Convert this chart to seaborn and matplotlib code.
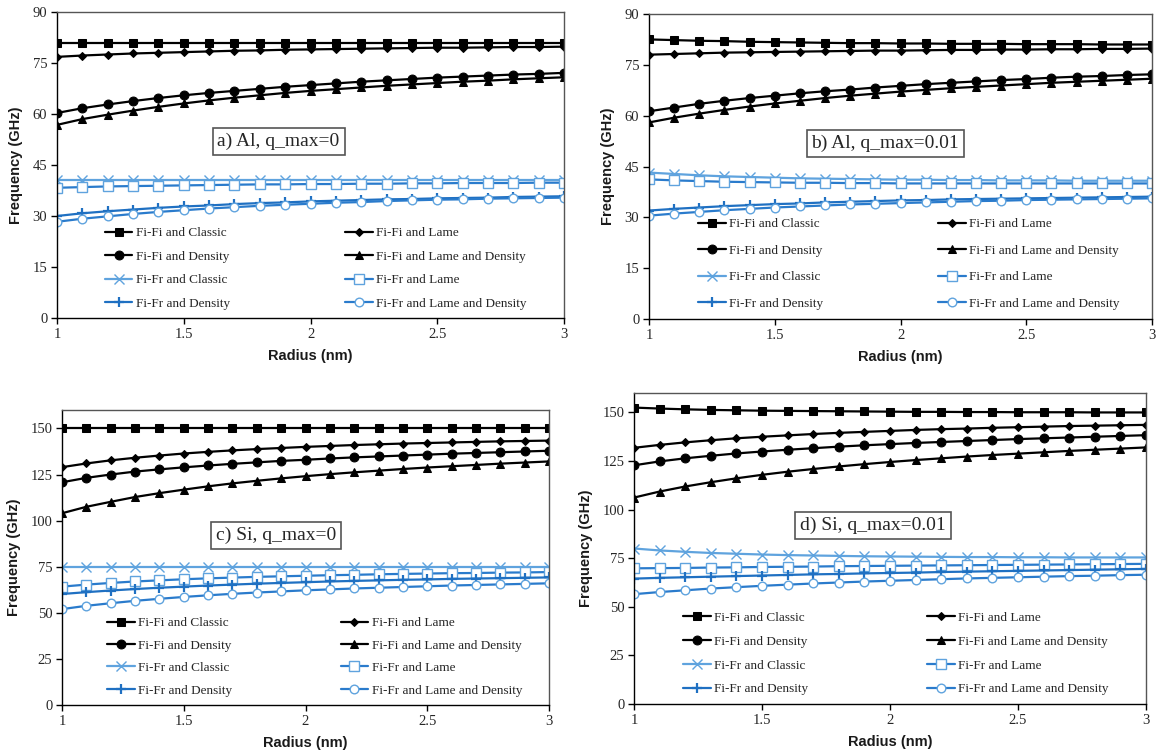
import numpy as np
import pandas as pd
import matplotlib
matplotlib.use("Agg")
import matplotlib.pyplot as plt
import seaborn as sns

# ---------------- data ----------------
radius = [1.0, 1.1, 1.2, 1.3, 1.4, 1.5, 1.6, 1.7, 1.8, 1.9, 2.0,
          2.1, 2.2, 2.3, 2.4, 2.5, 2.6, 2.7, 2.8, 2.9, 3.0]

series_names = ["Fi-Fi and Classic", "Fi-Fi and Lame", "Fi-Fi and Density",
                "Fi-Fi and Lame and Density", "Fi-Fr and Classic", "Fi-Fr and Lame",
                "Fi-Fr and Density", "Fi-Fr and Lame and Density"]

panel_titles = ["a) Al, q_max=0", "b) Al, q_max=0.01", "c) Si, q_max=0", "d) Si, q_max=0.01"]

# Panel a) Al, q_max=0
a_fifi_classic = [81.0] * 21
a_fifi_lame = [76.8, 77.2, 77.5, 77.8, 78.0, 78.2, 78.4, 78.6, 78.7, 78.9, 79.0,
               79.1, 79.2, 79.3, 79.4, 79.5, 79.5, 79.6, 79.7, 79.7, 79.8]
a_fifi_density = [60.3, 61.7, 62.8, 63.8, 64.7, 65.5, 66.2, 66.8, 67.4, 68.0, 68.5,
                  69.0, 69.5, 69.9, 70.3, 70.7, 71.0, 71.3, 71.6, 71.8, 72.1]
a_fifi_lame_density = [56.8, 58.5, 59.8, 61.0, 62.1, 63.1, 64.0, 64.8, 65.5, 66.2, 66.8,
                       67.3, 67.8, 68.3, 68.7, 69.1, 69.5, 69.8, 70.2, 70.5, 70.8]
a_fifr_classic = [40.5] * 21
a_fifr_lame = [38.3, 38.5, 38.7, 38.8, 38.9, 39.0, 39.1, 39.2, 39.3, 39.3, 39.4,
               39.4, 39.5, 39.5, 39.6, 39.6, 39.7, 39.7, 39.7, 39.8, 39.8]
a_fifr_density = [30.0, 30.8, 31.4, 31.9, 32.4, 32.8, 33.1, 33.5, 33.8, 34.0, 34.3,
                  34.5, 34.7, 34.9, 35.0, 35.2, 35.3, 35.4, 35.6, 35.7, 35.8]
a_fifr_lame_density = [28.3, 29.2, 29.9, 30.6, 31.2, 31.7, 32.2, 32.6, 33.0, 33.3, 33.6,
                       33.9, 34.1, 34.4, 34.6, 34.8, 34.9, 35.1, 35.2, 35.3, 35.4]

# Panel b) Al, q_max=0.01
b_fifi_classic = [82.5, 82.3, 82.1, 82.0, 81.8, 81.7, 81.6, 81.5, 81.4, 81.4, 81.3,
                  81.3, 81.2, 81.2, 81.2, 81.1, 81.1, 81.1, 81.0, 81.0, 81.0]
b_fifi_lame = [78.0, 78.2, 78.4, 78.6, 78.7, 78.8, 78.9, 79.0, 79.1, 79.2, 79.2,
               79.3, 79.4, 79.4, 79.5, 79.5, 79.6, 79.6, 79.7, 79.7, 79.8]
b_fifi_density = [61.3, 62.4, 63.5, 64.4, 65.2, 65.9, 66.6, 67.2, 67.7, 68.3, 68.8,
                  69.3, 69.7, 70.1, 70.5, 70.8, 71.2, 71.5, 71.7, 72.0, 72.2]
b_fifi_lame_density = [58.0, 59.4, 60.6, 61.7, 62.7, 63.6, 64.4, 65.2, 65.9, 66.5, 67.1,
                       67.6, 68.1, 68.5, 68.9, 69.3, 69.7, 70.0, 70.3, 70.6, 70.9]
b_fifr_classic = [43.2, 42.8, 42.4, 42.1, 41.9, 41.7, 41.5, 41.4, 41.3, 41.2, 41.1,
                  41.1, 41.0, 41.0, 40.9, 40.9, 40.9, 40.8, 40.8, 40.8, 40.8]
b_fifr_lame = [41.2, 40.9, 40.7, 40.5, 40.4, 40.3, 40.2, 40.2, 40.1, 40.1, 40.0,
               40.0, 40.0, 40.0, 40.0, 40.0, 40.0, 40.0, 40.0, 40.0, 40.0]
b_fifr_density = [32.0, 32.5, 32.9, 33.3, 33.6, 33.9, 34.1, 34.4, 34.6, 34.8, 35.0,
                  35.1, 35.3, 35.4, 35.5, 35.6, 35.7, 35.8, 35.9, 36.0, 36.1]
b_fifr_lame_density = [30.5, 31.1, 31.6, 32.1, 32.5, 32.9, 33.2, 33.5, 33.8, 34.0, 34.2,
                       34.4, 34.6, 34.8, 34.9, 35.1, 35.2, 35.3, 35.4, 35.5, 35.6]

# Panel c) Si, q_max=0
c_fifi_classic = [150.0] * 21
c_fifi_lame = [129.0, 131.0, 132.7, 134.1, 135.3, 136.4, 137.3, 138.1, 138.8, 139.4, 140.0,
               140.5, 141.0, 141.4, 141.8, 142.1, 142.4, 142.7, 143.0, 143.2, 143.4]
c_fifi_density = [120.8, 123.2, 125.0, 126.6, 127.8, 128.9, 129.9, 130.8, 131.6, 132.4, 133.0,
                  133.7, 134.3, 134.8, 135.3, 135.8, 136.3, 136.7, 137.1, 137.5, 137.9]
c_fifi_lame_density = [104.0, 107.5, 110.2, 112.8, 114.9, 116.8, 118.6, 120.2, 121.6, 122.9, 124.1,
                       125.2, 126.2, 127.1, 128.0, 128.8, 129.5, 130.2, 130.9, 131.5, 132.1]
c_fifr_classic = [75.0] * 21
c_fifr_lame = [64.2, 65.3, 66.2, 67.0, 67.6, 68.2, 68.7, 69.1, 69.5, 69.8, 70.1,
               70.4, 70.6, 70.9, 71.1, 71.3, 71.5, 71.6, 71.8, 71.9, 72.1]
c_fifr_density = [60.2, 61.2, 62.1, 62.9, 63.6, 64.2, 64.8, 65.3, 65.8, 66.2, 66.6,
                  67.0, 67.3, 67.6, 67.9, 68.1, 68.4, 68.6, 68.8, 69.0, 69.2]
c_fifr_lame_density = [52.0, 53.8, 55.2, 56.5, 57.6, 58.6, 59.5, 60.3, 61.0, 61.6, 62.2,
                       62.7, 63.2, 63.6, 64.0, 64.4, 64.8, 65.1, 65.4, 65.7, 66.0]

# Panel d) Si, q_max=0.01
d_fifi_classic = [152.5, 152.0, 151.6, 151.3, 151.1, 150.9, 150.8, 150.7, 150.6, 150.5, 150.4,
                  150.3, 150.3, 150.2, 150.2, 150.1, 150.1, 150.1, 150.0, 150.0, 150.0]
d_fifi_lame = [131.8, 133.3, 134.6, 135.7, 136.7, 137.5, 138.2, 138.9, 139.5, 140.0, 140.5,
               141.0, 141.4, 141.7, 142.1, 142.4, 142.7, 143.0, 143.2, 143.4, 143.6]
d_fifi_density = [122.8, 124.8, 126.4, 127.7, 128.9, 129.9, 130.8, 131.6, 132.4, 133.1, 133.7,
                  134.3, 134.8, 135.3, 135.8, 136.3, 136.7, 137.1, 137.5, 137.9, 138.3]
d_fifi_lame_density = [106.2, 109.3, 111.9, 114.1, 116.1, 117.9, 119.5, 120.9, 122.2, 123.4, 124.5,
                       125.5, 126.4, 127.3, 128.1, 128.8, 129.5, 130.2, 130.8, 131.4, 132.0]
d_fifr_classic = [80.0, 79.0, 78.3, 77.7, 77.3, 76.9, 76.6, 76.4, 76.2, 76.0, 75.9,
                  75.8, 75.7, 75.6, 75.6, 75.5, 75.5, 75.4, 75.4, 75.4, 75.4]
d_fifr_lame = [69.8, 69.9, 70.0, 70.2, 70.3, 70.5, 70.6, 70.7, 70.9, 71.0, 71.1,
               71.2, 71.3, 71.4, 71.5, 71.6, 71.7, 71.8, 71.9, 72.0, 72.1]
d_fifr_density = [64.5, 64.9, 65.2, 65.5, 65.8, 66.1, 66.4, 66.7, 66.9, 67.2, 67.4,
                  67.6, 67.9, 68.1, 68.3, 68.5, 68.7, 68.9, 69.1, 69.3, 69.5]
d_fifr_lame_density = [56.5, 57.6, 58.5, 59.4, 60.1, 60.8, 61.4, 62.0, 62.5, 63.0, 63.4,
                       63.8, 64.2, 64.6, 64.9, 65.2, 65.5, 65.8, 66.0, 66.3, 66.5]

x_ticks = [1, 1.5, 2, 2.5, 3]
x_tick_labels = ["1", "1.5", "2", "2.5", "3"]
al_y_ticks = [0, 15, 30, 45, 60, 75, 90]
si_y_ticks = [0, 25, 50, 75, 100, 125, 150]

panels = [
    [a_fifi_classic, a_fifi_lame, a_fifi_density, a_fifi_lame_density,
     a_fifr_classic, a_fifr_lame, a_fifr_density, a_fifr_lame_density],
    [b_fifi_classic, b_fifi_lame, b_fifi_density, b_fifi_lame_density,
     b_fifr_classic, b_fifr_lame, b_fifr_density, b_fifr_lame_density],
    [c_fifi_classic, c_fifi_lame, c_fifi_density, c_fifi_lame_density,
     c_fifr_classic, c_fifr_lame, c_fifr_density, c_fifr_lame_density],
    [d_fifi_classic, d_fifi_lame, d_fifi_density, d_fifi_lame_density,
     d_fifr_classic, d_fifr_lame, d_fifr_density, d_fifr_lame_density],
]

# ---------------- styles ----------------
BLUE_LINE = "#2a7bcc"
BLUE_LIGHT = "#5fa3de"
styles = [
    dict(color="black", marker="s", markersize=6.2, markerfacecolor="black", markeredgecolor="black"),
    dict(color="black", marker="D", markersize=3.6, markerfacecolor="black", markeredgecolor="black"),
    dict(color="black", marker="o", markersize=6.4, markerfacecolor="black", markeredgecolor="black"),
    dict(color="black", marker="^", markersize=5.5, markerfacecolor="black", markeredgecolor="black"),
    dict(color=BLUE_LIGHT, marker="x", markersize=6.5, markeredgewidth=1.0, markeredgecolor=BLUE_LIGHT),
    dict(color=BLUE_LINE, marker="s", markersize=6.5, markerfacecolor="white", markeredgecolor=BLUE_LIGHT, markeredgewidth=1.0),
    dict(color="#1f70c2", marker="+", markersize=6.5, markeredgewidth=1.6, markeredgecolor="#1f70c2"),
    dict(color="#2a7bcc", marker="o", markersize=6.2, markerfacecolor="white", markeredgecolor=BLUE_LIGHT, markeredgewidth=1.0),
]

sns.set_theme(style="white")
plt.rcParams["font.family"] = ["Liberation Serif", "DejaVu Serif"]

W, H = 1156, 755
fig = plt.figure(figsize=(W / 100, H / 100), dpi=100)

def rect(left, right, top, bottom):
    return [left / W, (H - bottom) / H, (right - left) / W, (bottom - top) / H]

axes_rects = [rect(57, 564, 12, 318), rect(649, 1152, 14, 319),
              rect(62, 549, 410, 705), rect(634, 1146, 393, 704)]
ylims = [(0, 90), (0, 90), (0, 160), (0, 160)]
yticks_list = [al_y_ticks, al_y_ticks, si_y_ticks, si_y_ticks]
title_pos = [(0.437, 0.577), (0.470, 0.576), (0.440, 0.576), (0.467, 0.574)]
# legend: (col1 x, col2 x, top y, labelspacing) in axes fraction
legend_pos = [(0.094, 0.569, 0.297, 0.85), (0.098, 0.575, 0.331, 1.08),
              (0.092, 0.572, 0.298, 0.77), (0.096, 0.573, 0.297, 0.88)]

for p in range(4):
    ax = fig.add_axes(axes_rects[p])
    vals = panels[p]
    for i, name in enumerate(series_names):
        df = pd.DataFrame({"Radius": radius, "Freq": vals[i]})
        sns.lineplot(data=df, x="Radius", y="Freq", ax=ax, linewidth=1.6,
                     label=name, legend=False, **styles[i])
    ax.set_xlim(1, 3)
    ax.set_ylim(*ylims[p])
    ax.set_xticks(x_ticks)
    ax.set_xticklabels(x_tick_labels)
    ax.set_yticks(yticks_list[p])
    ax.tick_params(axis="both", which="both", direction="out", length=4, width=1,
                   colors="black", labelsize=10.5, labelcolor="#262626", pad=3,
                   left=True, bottom=True)
    for lab in ax.get_xticklabels() + ax.get_yticklabels():
        lab.set_family(["Liberation Serif"])
    for side in ["left", "bottom"]:
        ax.spines[side].set_color("black")
        ax.spines[side].set_linewidth(1.0)
    for side in ["top", "right"]:
        ax.spines[side].set_color("#555555")
        ax.spines[side].set_linewidth(1.0)
    ax.grid(False)
    ax.set_xlabel("Radius (nm)", fontsize=10.5, fontweight="bold",
                  family=["Liberation Sans"], labelpad=6, color="#1a1a1a")
    ax.set_ylabel("Frequency (GHz)", fontsize=10.5, fontweight="bold",
                  family=["Liberation Sans"], labelpad=7, color="#1a1a1a")
    ax.text(title_pos[p][0], title_pos[p][1], panel_titles[p], transform=ax.transAxes,
            ha="center", va="center", fontsize=14, family=["Liberation Serif"],
            bbox=dict(boxstyle="square,pad=0.25", facecolor="white",
                      edgecolor="#555555", linewidth=1.2), zorder=5)

    lines = ax.get_lines()
    col1 = [lines[0], lines[2], lines[4], lines[6]]
    col2 = [lines[1], lines[3], lines[5], lines[7]]
    lx1, lx2, ly, ls = legend_pos[p]
    leg_kw = dict(loc="upper left", frameon=False, borderpad=0,
                  borderaxespad=0, handlelength=2.1, handletextpad=0.25,
                  labelspacing=ls, prop={"family": ["Liberation Serif"], "size": 9.5})
    leg1 = ax.legend(col1, [l.get_label() for l in col1], bbox_to_anchor=(lx1, ly), **leg_kw)
    ax.add_artist(leg1)
    ax.legend(col2, [l.get_label() for l in col2], bbox_to_anchor=(lx2, ly), **leg_kw)

fig.savefig("out.png", dpi=100)
